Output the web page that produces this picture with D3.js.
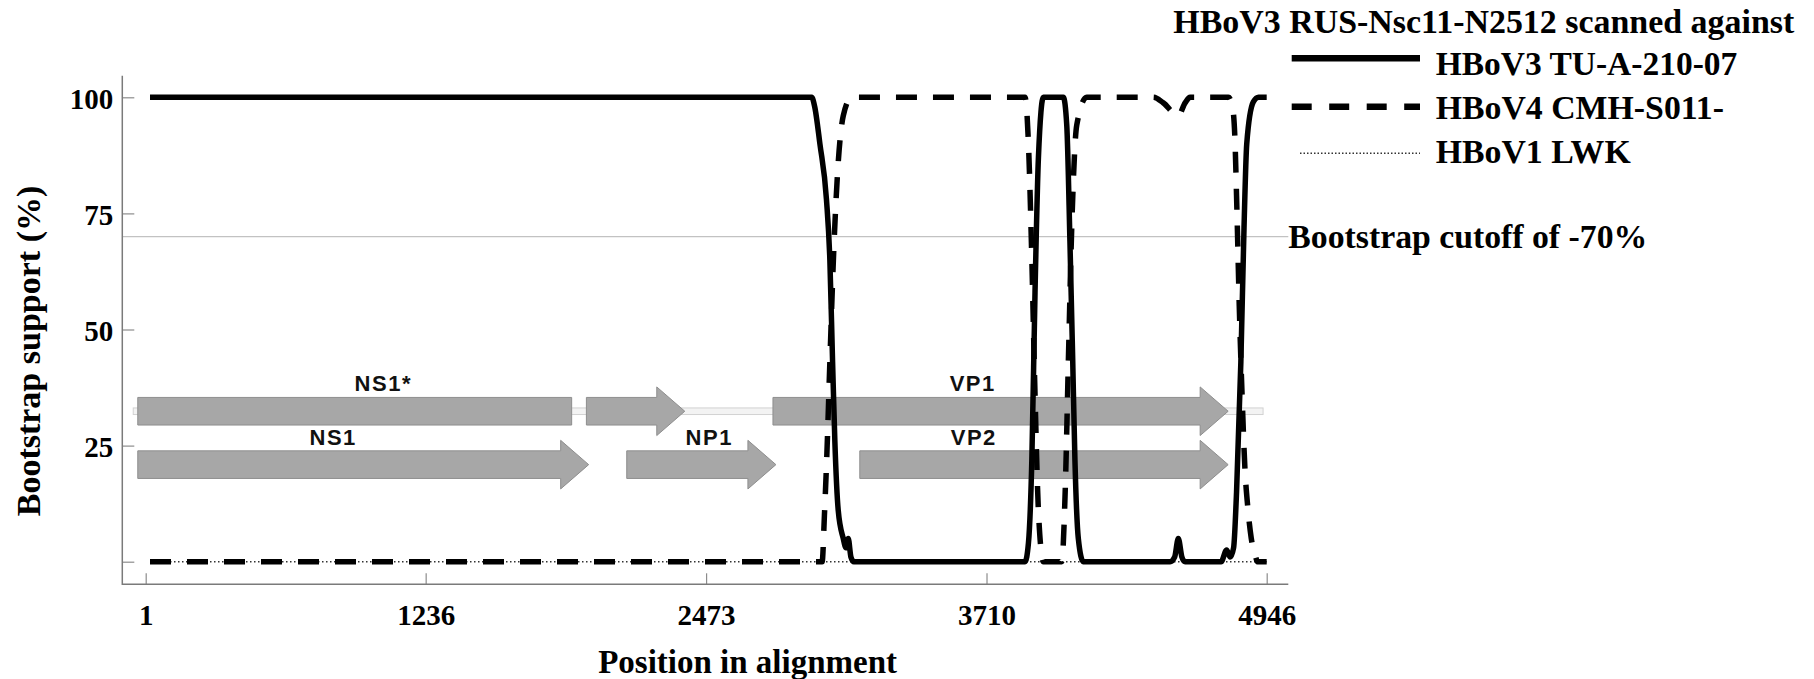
<!DOCTYPE html>
<html>
<head>
<meta charset="utf-8">
<script src="https://cdn.jsdelivr.net/npm/d3@7"></script>
<style>
  body { margin: 0; background: #fff; }
  svg { display: block; }
  .serif { font-family: "Liberation Serif", "Times New Roman", serif; font-weight: bold; fill: #000; }
  .gene-label { font-family: "Liberation Sans", Arial, sans-serif; font-weight: bold; font-size: 22px; letter-spacing: 1.5px; fill: #111; }
</style>
</head>
<body>
<svg id="chart" width="1814" height="679"></svg>
<script>
// ---- Bootscan data (position in alignment vs bootstrap support, %) ----
const seriesNames = ["HBoV3 TU-A-210-07", "HBoV4 CMH-S011-", "HBoV1 LWK"];

const posTU = [20, 2939, 2952, 2975, 3004, 3019, 3031, 3041, 3056, 3078,
               3090, 3100, 3112, 3125, 3880, 3895, 3910, 3924, 3939, 3961,
               4049, 4064, 4078, 4090, 4100, 4115, 4137, 4520, 4540, 4556,
               4572, 4586, 4745, 4769, 4785, 4800, 4813, 4832, 4846, 4858,
               4887, 4910, 4946];
const valTU = [100, 100, 98, 90, 78, 65, 43, 26, 11, 5,
               3, 5, 1, 0, 0, 4, 22, 58, 87, 100,
               100, 94, 69, 44, 22, 5, 0, 0, 1, 5,
               1, 0, 0, 2.5, 1, 3, 15, 43, 72, 90,
               99, 100, 100];

const posCMH = [20, 2985, 2995, 3005, 3019, 3037, 3056, 3078, 3115, 3880,
                3895, 3910, 3924, 3939, 3961, 4042, 4057, 4071, 4086, 4108,
                4152, 4446, 4490, 4556, 4586, 4608, 4777, 4795, 4805, 4815,
                4825, 4838, 4850, 4862, 4878, 4895, 4905, 4946];
const valCMH = [0, 0, 10, 22, 43, 68, 86, 96, 100, 100,
                90, 65, 36, 11, 0, 0, 15, 43, 72, 94,
                100, 100, 98.8, 96, 98.8, 100, 100, 98, 92, 75,
                55, 35, 20, 12, 5, 1.5, 0, 0];

const posLWK = [20, 1236, 2473, 3710, 4946];
const valLWK = [0, 0, 0, 0, 0];

const cutoffValue = 70;

// ---- Axis ticks ----
const xTicks = [1, 1236, 2473, 3710, 4946];
const yTicks = [0, 25, 50, 75, 100];

// ---- Genome map (alignment coordinates) ----
const segStart = [-34, 1945, -34, 2123, 2768, 3151];
const segEnd   = [1880, 2379, 1955, 2781, 4776, 4776];
const segRow   = [0, 0, 1, 1, 0, 1];
const segHead  = [false, true, true, true, true, true];
const rowLevel = [32.4, 20.9];
const backboneRange = [-54, 4930];

const geneLabels   = ["NS1*", "NS1", "NP1", "VP1", "VP2"];
const geneLabelPos = [1049, 828, 2487, 3649, 3654];
const geneLabelRow = [0, 1, 1, 0, 1];

// ---- Texts ----
const titleText = "HBoV3 RUS-Nsc11-N2512 scanned against";
const cutoffText = "Bootstrap cutoff of -70%";
const xTitle = "Position in alignment";
const yTitle = "Bootstrap support (%)";

// ---- Layout ----
const svg = d3.select("#chart");
const x = d3.scaleLinear().domain([1, 4946]).range([145.7, 1266.7]);
const y = d3.scaleLinear().domain([0, 100]).range([561.7, 97.3]);
const axisX = 122.3, axisY = 584.3, axisTop = 75.8, axisRight = 1288.3;

svg.append("rect").attr("width", 1814).attr("height", 679).attr("fill", "#fff");

// cutoff line
svg.append("line")
  .attr("x1", axisX).attr("x2", axisRight)
  .attr("y1", y(cutoffValue)).attr("y2", y(cutoffValue))
  .attr("stroke", "#c2c2c2").attr("stroke-width", 1.3);

// y axis
const gy = svg.append("g").attr("transform", `translate(${axisX},0)`)
  .call(d3.axisLeft(y).tickValues(yTicks).tickSizeInner(-12).tickSizeOuter(0)
        .tickFormat(d => d === 0 ? "" : String(d)));
gy.select(".domain").remove();
gy.selectAll(".tick line").attr("stroke", "#8c8c8c").attr("stroke-width", 1.2);
gy.selectAll(".tick text").attr("class", "serif").style("font-size", "29px")
  .attr("x", -9).attr("dy", "0.37em");

// x axis
const gx = svg.append("g").attr("transform", `translate(0,${axisY})`)
  .call(d3.axisBottom(x).tickValues(xTicks).tickSizeInner(-11).tickSizeOuter(0)
        .tickFormat(d => String(d)));
gx.select(".domain").remove();
gx.selectAll(".tick line").attr("stroke", "#8c8c8c").attr("stroke-width", 1.2);
gx.selectAll(".tick text").attr("class", "serif").style("font-size", "29px")
  .attr("y", 40.7).attr("dy", 0);

// axis frame lines
svg.append("path")
  .attr("d", `M${axisX},${axisTop}V${axisY}H${axisRight}`)
  .attr("fill", "none").attr("stroke", "#7a7a7a").attr("stroke-width", 1.5);

// genome map
const gMap = svg.append("g");
gMap.append("rect")
  .attr("x", x(backboneRange[0])).attr("width", x(backboneRange[1]) - x(backboneRange[0]))
  .attr("y", y(rowLevel[0]) - 3.3).attr("height", 6.6)
  .attr("fill", "#f3f3f3").attr("stroke", "#d2d2d2").attr("stroke-width", 1);

const bodyHalf = 13.8, headHalf = 24.3, headLen = 28;
const segs = segStart.map((s, i) => ({ s, e: segEnd[i], row: segRow[i], head: segHead[i] }));
gMap.selectAll("path.seg").data(segs).join("path")
  .attr("class", "seg")
  .attr("d", d => {
    const x0 = x(d.s), x1 = x(d.e), cy = y(rowLevel[d.row]);
    if (!d.head) {
      return `M${x0},${cy - bodyHalf}H${x1}V${cy + bodyHalf}H${x0}Z`;
    }
    const xb = x1 - headLen;
    return `M${x0},${cy - bodyHalf}H${xb}V${cy - headHalf}L${x1},${cy}L${xb},${cy + headHalf}V${cy + bodyHalf}H${x0}Z`;
  })
  .attr("fill", "#a7a7a7").attr("stroke", "#8e8e8e").attr("stroke-width", 1);

gMap.selectAll("text").data(geneLabels).join("text")
  .attr("class", "gene-label")
  .attr("text-anchor", "middle")
  .attr("x", (d, i) => x(geneLabelPos[i]))
  .attr("y", (d, i) => y(rowLevel[geneLabelRow[i]]) - 20)
  .text(d => d);

// bootscan curves
const line = d3.line().x(d => x(d[0])).y(d => y(d[1])).curve(d3.curveMonotoneX);
const zip = (p, v) => p.map((q, i) => [q, v[i]]);

svg.append("path").datum(zip(posLWK, valLWK)).attr("d", line)
  .attr("fill", "none").attr("stroke", "#333").attr("stroke-width", 1.5)
  .attr("stroke-dasharray", "1.5,2.5");
svg.append("path").datum(zip(posTU, valTU)).attr("d", line)
  .attr("fill", "none").attr("stroke", "#000").attr("stroke-width", 5.5)
  .attr("stroke-linejoin", "round");
svg.append("path").datum(zip(posCMH, valCMH)).attr("d", line)
  .attr("fill", "none").attr("stroke", "#000").attr("stroke-width", 5.5)
  .attr("stroke-dasharray", "21,16");

// cutoff label
svg.append("text").attr("class", "serif").style("font-size", "33.5px")
  .attr("x", axisRight).attr("y", 248.3)
  .attr("textLength", 359).attr("lengthAdjust", "spacingAndGlyphs")
  .text(cutoffText);

// legend
svg.append("text").attr("class", "serif").style("font-size", "33.5px")
  .attr("x", 1173.3).attr("y", 33.3)
  .attr("textLength", 621).attr("lengthAdjust", "spacingAndGlyphs")
  .text(titleText);

const legY = [58.3, 106.7, 153.3];
const legTextY = [75, 119.3, 163.3];
const legLen = [301.6, 288.3, 195];
const legStyles = [
  { w: 6.5, dash: null, c: "#000", x0: 1291.7 },
  { w: 6.5, dash: "20,17.5", c: "#000", x0: 1291.7 },
  { w: 1.5, dash: "1.5,2", c: "#333", x0: 1300 }
];
seriesNames.forEach((name, i) => {
  const st = legStyles[i];
  const l = svg.append("line")
    .attr("x1", st.x0).attr("x2", 1420).attr("y1", legY[i]).attr("y2", legY[i])
    .attr("stroke", st.c).attr("stroke-width", st.w);
  if (st.dash) l.attr("stroke-dasharray", st.dash);
  svg.append("text").attr("class", "serif").style("font-size", "33.5px")
    .attr("x", 1435.7).attr("y", legTextY[i])
    .attr("textLength", legLen[i]).attr("lengthAdjust", "spacingAndGlyphs")
    .text(name);
});

// axis titles
svg.append("text").attr("class", "serif").style("font-size", "33px")
  .attr("text-anchor", "middle").attr("x", 747.6).attr("y", 673)
  .text(xTitle);
svg.append("text").attr("class", "serif").style("font-size", "34px")
  .attr("text-anchor", "middle")
  .attr("transform", "translate(40,351) rotate(-90)")
  .text(yTitle);
</script>
</body>
</html>
